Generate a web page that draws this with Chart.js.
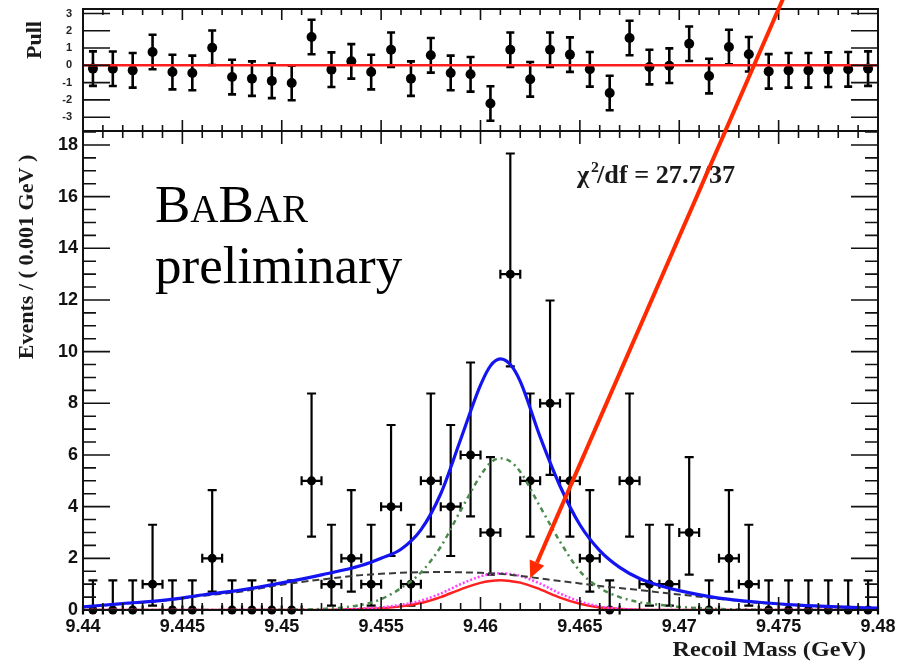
<!DOCTYPE html>
<html>
<head>
<meta charset="utf-8">
<title>Recoil mass fit</title>
<script src="https://cdn.jsdelivr.net/npm/chart.js@4.4.1/dist/chart.umd.min.js"></script>
<style>
  html, body { margin: 0; padding: 0; background: #fff; }
  #wrap { position: relative; width: 898px; height: 662px; overflow: hidden; }
  #wrap canvas { position: absolute; left: 0; top: 0; }
</style>
</head>
<body>
<div id="wrap">
  <canvas id="pull-chart" width="898" height="140"></canvas>
  <canvas id="mass-chart" width="898" height="662"></canvas>
</div>
<script>
// bins of 1 MeV between 9.44 and 9.48 GeV
var binCenters = [9.4405, 9.4415, 9.4425, 9.4435, 9.4445, 9.4455, 9.4465, 9.4475, 9.4485, 9.4495,
                  9.4505, 9.4515, 9.4525, 9.4535, 9.4545, 9.4555, 9.4565, 9.4575, 9.4585, 9.4595,
                  9.4605, 9.4615, 9.4625, 9.4635, 9.4645, 9.4655, 9.4665, 9.4675, 9.4685, 9.4695,
                  9.4705, 9.4715, 9.4725, 9.4735, 9.4745, 9.4755, 9.4765, 9.4775, 9.4785, 9.4795];
var eventCounts = [0, 0, 0, 1, 0, 0, 2, 0, 0, 0,
                   0, 5, 1, 2, 1, 4, 1, 5, 4, 6,
                   3, 13, 5, 8, 5, 2, 0, 5, 1, 1,
                   3, 0, 2, 1, 0, 0, 0, 0, 0, 0];
var pullValues = [-0.19, -0.20, -0.29, 0.77, -0.39, -0.44, 1.02, -0.68, -0.77, -0.90,
                  -1.02, 1.64, -0.25, 0.23, -0.39, 0.90, -0.77, 0.58, -0.44, -0.52,
                  -2.21, 0.90, -0.81, 0.90, 0.62, -0.23, -1.60, 1.58, -0.10, -0.02,
                  1.25, -0.62, 1.06, 0.64, -0.35, -0.29, -0.29, -0.25, -0.23, -0.19];
var pullError = 1;
// Poisson 68% interval [low, high] for each observed count
var poissonInterval = {
  0: [0, 1.15], 1: [0.17, 3.30], 2: [0.71, 4.64], 3: [1.37, 5.92], 4: [2.09, 7.16],
  5: [2.84, 8.38], 6: [3.62, 9.58], 8: [5.23, 11.98], 13: [9.43, 17.67]
};

// fit components sampled along the mass axis
var fitMass = [9.440, 9.442, 9.444, 9.446, 9.448, 9.450, 9.452, 9.454, 9.455, 9.456,
               9.457, 9.458, 9.459, 9.460, 9.4605, 9.461, 9.4615, 9.462, 9.463, 9.464,
               9.465, 9.466, 9.467, 9.468, 9.469, 9.470, 9.472, 9.474, 9.476, 9.478, 9.480];
var totalFit = [0.12, 0.25, 0.37, 0.58, 0.78, 1.05, 1.36, 1.72, 2.00, 2.35,
                3.10, 4.50, 6.60, 8.70, 9.45, 9.72, 9.50, 8.85, 6.70, 4.80,
                3.30, 2.30, 1.65, 1.22, 0.95, 0.75, 0.46, 0.30, 0.19, 0.12, 0.07];
var peakFit = [0, 0, 0, 0, 0, 0.01, 0.04, 0.20, 0.42, 0.85,
               1.45, 2.45, 3.85, 5.20, 5.70, 5.87, 5.75, 5.35, 4.00, 2.65,
               1.50, 0.85, 0.50, 0.30, 0.20, 0.12, 0.04, 0.01, 0, 0, 0];
var backgroundFit = [0.11, 0.24, 0.36, 0.55, 0.72, 0.98, 1.18, 1.35, 1.40, 1.44,
                     1.46, 1.47, 1.46, 1.44, 1.42, 1.40, 1.36, 1.32, 1.22, 1.12,
                     1.03, 0.93, 0.85, 0.77, 0.68, 0.60, 0.43, 0.28, 0.18, 0.11, 0.07];
var redFit = [0, 0, 0, 0, 0, 0, 0, 0.04, 0.07, 0.14,
              0.27, 0.50, 0.80, 1.05, 1.12, 1.15, 1.12, 1.06, 0.80, 0.48,
              0.24, 0.10, 0.04, 0.01, 0, 0, 0, 0, 0, 0, 0];
var magentaFit = [0, 0, 0, 0, 0, 0, 0, 0.05, 0.10, 0.20,
                  0.36, 0.64, 1.00, 1.30, 1.39, 1.42, 1.39, 1.32, 1.02, 0.64,
                  0.33, 0.14, 0.05, 0.01, 0, 0, 0, 0, 0, 0, 0];

var massTicks = [9.44, 9.445, 9.45, 9.455, 9.46, 9.465, 9.47, 9.475, 9.48];
var countTicks = [0, 2, 4, 6, 8, 10, 12, 14, 16, 18];
var pullTicks = [-3, -2, -1, 0, 1, 2, 3];

var SERIF = '"Liberation Serif", "Times New Roman", serif';
var SANS = '"Liberation Sans", Arial, sans-serif';

function curve(values) {
  return fitMass.map(function (m, i) { return { x: m, y: values[i] }; });
}

function drawText(ctx, text, x, y, font, align, stretch) {
  ctx.save();
  ctx.font = font;
  ctx.textAlign = align || 'left';
  ctx.textBaseline = 'alphabetic';
  ctx.translate(x, y);
  ctx.scale(stretch || 1, 1);
  ctx.fillText(text, 0, 0);
  ctx.restore();
}

// box around the plot area with ROOT style ticks pointing inwards
var frameTicks = {
  id: 'frameTicks',
  afterDraw: function (chart, args, opts) {
    var ctx = chart.ctx, a = chart.chartArea;
    var xs = chart.scales.x, ys = chart.scales.y;
    ctx.save();
    ctx.strokeStyle = '#111';
    ctx.lineWidth = 1.6;
    ctx.beginPath();
    function xTick(v, len) {
      var px = xs.getPixelForValue(v);
      ctx.moveTo(px, a.bottom); ctx.lineTo(px, a.bottom - len);
      ctx.moveTo(px, a.top); ctx.lineTo(px, a.top + len);
    }
    function yTick(v, len) {
      var py = ys.getPixelForValue(v);
      ctx.moveTo(a.left, py); ctx.lineTo(a.left + len, py);
      ctx.moveTo(a.right, py); ctx.lineTo(a.right - len, py);
    }
    var k;
    for (k = 0; xs.min + k * opts.xMinorStep <= xs.max + 1e-9; k++) {
      xTick(xs.min + k * opts.xMinorStep, opts.xMinor);
    }
    massTicks.forEach(function (v) { xTick(v, opts.xMajor); });
    if (opts.yMinorStep) {
      for (k = 0; k * opts.yMinorStep <= ys.max; k++) {
        yTick(k * opts.yMinorStep, opts.yMinor);
      }
    }
    ys.ticks.forEach(function (t) { yTick(t.value, opts.yMajor); });
    ctx.stroke();
    ctx.lineWidth = 2;
    ctx.strokeRect(a.left, a.top, a.right - a.left, a.bottom - a.top);
    ctx.restore();
  }
};

// asymmetric vertical error bars (and bin width bars) for the point dataset
var errorBars = {
  id: 'errorBars',
  beforeDatasetsDraw: function (chart, args, opts) {
    var ctx = chart.ctx, xs = chart.scales.x, ys = chart.scales.y;
    var points = chart.data.datasets[0].data;
    ctx.save();
    ctx.strokeStyle = '#000';
    ctx.lineWidth = opts.lineWidth;
    ctx.beginPath();
    points.forEach(function (p) {
      var px = xs.getPixelForValue(p.x);
      var py = ys.getPixelForValue(p.y);
      var top = ys.getPixelForValue(p.hi);
      var bot = ys.getPixelForValue(p.lo);
      ctx.moveTo(px, top); ctx.lineTo(px, bot);
      ctx.moveTo(px - opts.cap, top); ctx.lineTo(px + opts.cap, top);
      if (p.lo > ys.min) {
        ctx.moveTo(px - opts.cap, bot); ctx.lineTo(px + opts.cap, bot);
      }
      if (opts.binHalf) {
        var left = xs.getPixelForValue(p.x - opts.binHalf);
        var right = xs.getPixelForValue(p.x + opts.binHalf);
        ctx.moveTo(left, py); ctx.lineTo(right, py);
        ctx.moveTo(left, py - opts.cap); ctx.lineTo(left, py + opts.cap);
        ctx.moveTo(right, py - opts.cap); ctx.lineTo(right, py + opts.cap);
      }
    });
    ctx.stroke();
    ctx.restore();
  }
};

// titles, the BaBar label, the fit quality and the arrow on the signal bump
var massNotes = {
  id: 'massNotes',
  afterDraw: function (chart) {
    var ctx = chart.ctx, xs = chart.scales.x, ys = chart.scales.y;
    ctx.save();
    ctx.fillStyle = '#000';

    // BABAR with small caps
    var x = 155, size = 53;
    [['B', 1], ['A', 0.74], ['B', 1], ['AR', 0.74]].forEach(function (part) {
      ctx.font = Math.round(size * part[1]) + 'px ' + SERIF;
      ctx.fillText(part[0], x, 222);
      x += ctx.measureText(part[0]).width;
    });
    drawText(ctx, 'preliminary', 155, 283, size + 'px ' + SERIF, 'left', 1);

    ctx.fillStyle = '#1a1a1a';
    drawText(ctx, '\u03c7', 577, 183, 'bold 25px ' + SERIF, 'left', 1.05);
    drawText(ctx, '2', 591, 172, 'bold 15px ' + SERIF, 'left', 1.05);
    drawText(ctx, '/df = 27.7/37', 597, 183, 'bold 25px ' + SERIF, 'left', 1.05);

    drawText(ctx, 'Recoil Mass (GeV)', 866, 656, 'bold 22px ' + SERIF, 'right', 1.1);
    ctx.save();
    ctx.translate(33, 257);
    ctx.rotate(-Math.PI / 2);
    drawText(ctx, 'Events / ( 0.001 GeV )', 0, 0, 'bold 21px ' + SERIF, 'center', 1.05);
    ctx.restore();

    // arrow pointing at the small component
    var tailX = xs.getPixelForValue(9.4757), tailY = ys.getPixelForValue(24.5);
    var tipX = xs.getPixelForValue(9.4625), tipY = ys.getPixelForValue(1.23);
    var ang = Math.atan2(tipY - tailY, tipX - tailX);
    var head = 17, half = 8;
    var baseX = tipX - head * Math.cos(ang), baseY = tipY - head * Math.sin(ang);
    ctx.strokeStyle = '#ff2a00';
    ctx.fillStyle = '#ff2a00';
    ctx.lineWidth = 4;
    ctx.beginPath();
    ctx.moveTo(tailX, tailY);
    ctx.lineTo(baseX, baseY);
    ctx.stroke();
    ctx.beginPath();
    ctx.moveTo(tipX, tipY);
    ctx.lineTo(baseX + half * Math.sin(ang), baseY - half * Math.cos(ang));
    ctx.lineTo(baseX - half * Math.sin(ang), baseY + half * Math.cos(ang));
    ctx.closePath();
    ctx.fill();
    ctx.restore();
  }
};

var pullNotes = {
  id: 'pullNotes',
  afterDraw: function (chart) {
    var ctx = chart.ctx;
    ctx.save();
    ctx.fillStyle = '#1a1a1a';
    ctx.translate(41, 40);
    ctx.rotate(-Math.PI / 2);
    drawText(ctx, 'Pull', 0, 0, 'bold 21px ' + SERIF, 'center', 1.05);
    ctx.restore();
  }
};

function fixedWidth(w) {
  return function (scale) { scale.width = w; scale.paddingTop = 0; scale.paddingBottom = 0; };
}

var massPoints = binCenters.map(function (m, i) {
  var band = poissonInterval[eventCounts[i]];
  return { x: m, y: eventCounts[i], lo: band[0], hi: band[1] };
});
var pullPoints = binCenters.map(function (m, i) {
  return { x: m, y: pullValues[i], lo: pullValues[i] - pullError, hi: pullValues[i] + pullError };
});

function fitLine(values, color, width, dash, order) {
  return {
    data: curve(values), showLine: true, pointRadius: 0, borderColor: color,
    borderWidth: width, borderDash: dash, cubicInterpolationMode: 'monotone', order: order
  };
}

var massChart = new Chart(document.getElementById('mass-chart'), {
  type: 'scatter',
  data: {
    datasets: [
      { data: massPoints, pointRadius: 4.5, backgroundColor: '#000', borderColor: '#000', borderWidth: 0, clip: false, order: 10 },
      fitLine(totalFit, '#1414f0', 3.2, [], 1),
      fitLine(peakFit, '#4c8a4c', 2.5, [5, 4, 2, 4], 2),
      fitLine(backgroundFit, '#3a3a3a', 2, [7, 4], 3),
      fitLine(magentaFit, '#ff40ff', 2.5, [2, 2], 4),
      fitLine(redFit, '#ff2020', 2.5, [], 5)
    ]
  },
  options: {
    responsive: false,
    animation: false,
    events: [],
    layout: { padding: { left: 0, right: 20, top: 131, bottom: 22 } },
    plugins: {
      legend: { display: false },
      tooltip: { enabled: false },
      frameTicks: { xMajor: 13, xMinor: 7, xMinorStep: 0.001, yMajor: 27, yMinor: 13, yMinorStep: 0.5 },
      errorBars: { lineWidth: 2.2, cap: 4.5, binHalf: 0.0005 }
    },
    scales: {
      x: {
        type: 'linear', min: 9.44, max: 9.48,
        grid: { display: false, drawTicks: false }, border: { display: false },
        ticks: {
          padding: 6, color: '#111', maxRotation: 0,
          font: { family: SANS, size: 18, weight: 'bold' },
          callback: function (v) { return Number(v.toFixed(3)).toString(); }
        },
        afterBuildTicks: function (scale) {
          scale.ticks = massTicks.map(function (v) { return { value: v }; });
        },
        afterFit: function (scale) { scale.height = 30; scale.paddingLeft = 0; scale.paddingRight = 0; }
      },
      y: {
        type: 'linear', min: 0, max: 18.54,
        grid: { display: false, drawTicks: false }, border: { display: false },
        ticks: { padding: 5, color: '#111', font: { family: SANS, size: 18, weight: 'bold' } },
        afterBuildTicks: function (scale) {
          scale.ticks = countTicks.map(function (v) { return { value: v }; });
        },
        afterFit: fixedWidth(83)
      }
    }
  },
  plugins: [errorBars, frameTicks, massNotes]
});

var pullChart = new Chart(document.getElementById('pull-chart'), {
  type: 'scatter',
  data: {
    datasets: [
      { data: pullPoints, pointRadius: 5, backgroundColor: '#000', borderColor: '#000', borderWidth: 0, clip: false, order: 2 },
      { data: [{ x: 9.44, y: 0 }, { x: 9.48, y: 0 }], showLine: true, pointRadius: 0, borderColor: '#ff1c1c', borderWidth: 2.5, order: 1 }
    ]
  },
  options: {
    responsive: false,
    animation: false,
    events: [],
    layout: { padding: { left: 0, right: 20, top: 9, bottom: 9 } },
    plugins: {
      legend: { display: false },
      tooltip: { enabled: false },
      frameTicks: { xMajor: 11, xMinor: 6, xMinorStep: 0.001, yMajor: 27 },
      errorBars: { lineWidth: 2.6, cap: 4, binHalf: 0 }
    },
    scales: {
      x: {
        type: 'linear', min: 9.44, max: 9.48, display: false,
        afterFit: function (scale) { scale.paddingLeft = 0; scale.paddingRight = 0; }
      },
      y: {
        type: 'linear', min: -3.8, max: 3.26,
        grid: { display: false, drawTicks: false }, border: { display: false },
        ticks: { padding: 11, color: '#222', font: { family: SANS, size: 11, weight: 'bold' } },
        afterBuildTicks: function (scale) {
          scale.ticks = pullTicks.map(function (v) { return { value: v }; });
        },
        afterFit: fixedWidth(83)
      }
    }
  },
  plugins: [errorBars, frameTicks, pullNotes]
});
</script>
</body>
</html>
